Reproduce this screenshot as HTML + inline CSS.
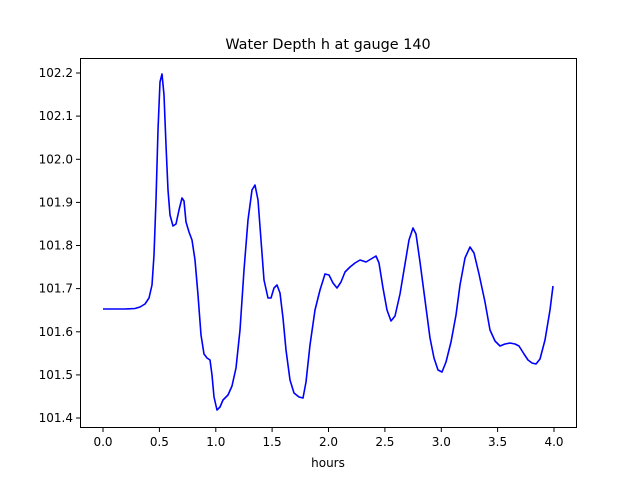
<!DOCTYPE html>
<html><head><style>body{margin:0;background:#fff}svg{display:block}text{font-family:"DejaVu Sans","Liberation Sans",sans-serif;font-size:12px;fill:#000}</style></head>
<body>
<svg width="640" height="480" viewBox="0 0 640 480">
<rect width="640" height="480" fill="#fff"/>
<text x="328" y="49" text-anchor="middle" style="font-size:14.4px">Water Depth h at gauge 140</text>
<polyline fill="none" stroke="#0000ff" stroke-width="1.6" stroke-linejoin="round" points="103,309 125,309 135,308.5 140,307 145,304 149,298 152,285 154,255 156,200 158,130 160,82 162,74 164,95 166,145 168,190 170,215 173,226 176,224 179,210 182,198 184,201 186,222 189,232 192,240 195,260 198,295 201,335 204,354 207,358 210,360 212,375 214,397 217,410 220,407 223,400 228,395 232,386 236,368 240,330 244,270 248,220 252,190 255,185 258,200 261,240 264,280 268,298 271,298 274,288 277,285 280,293 283,318 286,350 290,380 294,393 299,397 303,398 306,382 310,345 315,310 320,290 325,274 329,275 333,283 337,288 341,282 345,272 350,267 355,263 360,260 366,262 371,259 376,256 379,263 383,288 387,310 391,321 395,316 400,294 405,264 409,240 413,228 416,234 420,262 425,300 430,338 434,358 438,370 442,372 446,362 451,342 456,315 460,285 465,258 470,247 474,253 479,274 485,302 490,330 495,341 500,346 505,344 510,343 515,344 519,346 524,354 528,360 532,363 536,364 540,359 545,340 550,310 553,286"/>
<rect x="80.5" y="58.5" width="496" height="369" fill="none" stroke="#000" stroke-width="1"/>
<g stroke="#000">
<line x1="103" y1="428" x2="103" y2="432"/><line x1="159.4" y1="428" x2="159.4" y2="432"/><line x1="215.8" y1="428" x2="215.8" y2="432"/><line x1="272.1" y1="428" x2="272.1" y2="432"/><line x1="328.5" y1="428" x2="328.5" y2="432"/><line x1="384.9" y1="428" x2="384.9" y2="432"/><line x1="441.3" y1="428" x2="441.3" y2="432"/><line x1="497.6" y1="428" x2="497.6" y2="432"/><line x1="554" y1="428" x2="554" y2="432"/>
<line x1="76" y1="73" x2="80" y2="73"/><line x1="76" y1="116.1" x2="80" y2="116.1"/><line x1="76" y1="159.3" x2="80" y2="159.3"/><line x1="76" y1="202.4" x2="80" y2="202.4"/><line x1="76" y1="245.5" x2="80" y2="245.5"/><line x1="76" y1="288.6" x2="80" y2="288.6"/><line x1="76" y1="331.8" x2="80" y2="331.8"/><line x1="76" y1="374.9" x2="80" y2="374.9"/><line x1="76" y1="418" x2="80" y2="418"/>
</g>
<g text-anchor="middle">
<text x="103" y="446">0.0</text><text x="159.4" y="446">0.5</text><text x="215.8" y="446">1.0</text><text x="272.1" y="446">1.5</text><text x="328.5" y="446">2.0</text><text x="384.9" y="446">2.5</text><text x="441.3" y="446">3.0</text><text x="497.6" y="446">3.5</text><text x="554" y="446">4.0</text>
<text x="328" y="467">hours</text>
</g>
<g text-anchor="end">
<text x="73" y="77">102.2</text><text x="73" y="120.1">102.1</text><text x="73" y="163.3">102.0</text><text x="73" y="206.4">101.9</text><text x="73" y="249.5">101.8</text><text x="73" y="292.6">101.7</text><text x="73" y="335.8">101.6</text><text x="73" y="378.9">101.5</text><text x="73" y="422">101.4</text>
</g>
</svg>
</body></html>
